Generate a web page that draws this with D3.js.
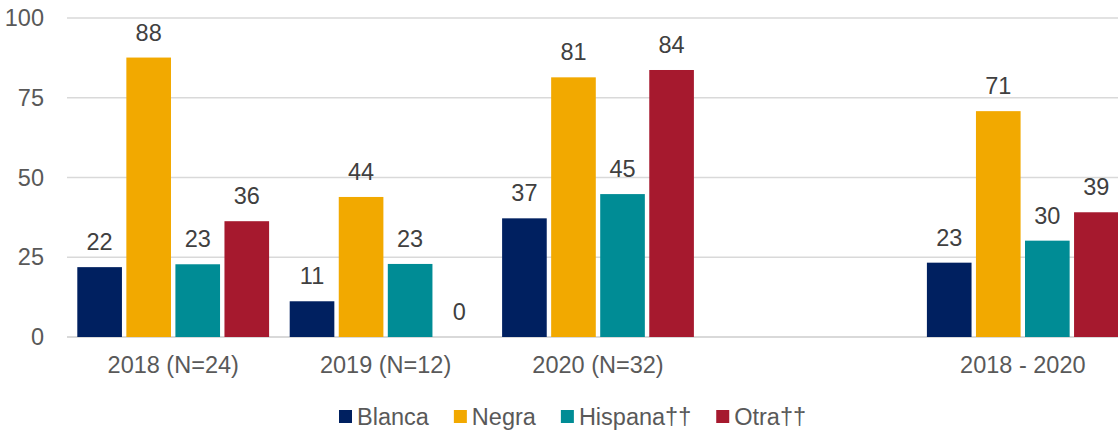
<!DOCTYPE html>
<html>
<head>
<meta charset="utf-8">
<script src="https://cdn.jsdelivr.net/npm/d3@7"></script>
<style>
  body { margin: 0; background: #fff; overflow: hidden; }
  svg { font-family: "Liberation Sans", Arial, sans-serif; }
</style>
</head>
<body>
<div id="chart"></div>
<script>
// categories (the empty one is the gap before the total group)
var categories = ['2018 (N=24)', '2019 (N=12)', '2020 (N=32)', '', '2018 - 2020'];
var seriesNames = ['Blanca', 'Negra', 'Hispana\u2020\u2020', 'Otra\u2020\u2020'];
var seriesColors = ['#002060', '#F2A900', '#008C95', '#A6192E'];

// values per series, one per category (null = no bar)
var blanca = [21.9, 11.2, 37.2, null, 23.3];
var negra = [87.6, 43.9, 81.4, null, 70.8];
var hispana = [22.8, 22.9, 44.8, null, 30.2];
var otra = [36.3, 0, 83.7, null, 39.1];

var yTicks = [0, 25, 50, 75, 100];

var width = 1118, height = 432;
var margin = { top: 18, left: 67 };
var innerW = width - margin.left;      // visible gridline length
var plotW = 1062;                      // category axis runs past the right edge
var innerH = 337 - margin.top;
var fontSize = '23.5px';

var seriesValues = [blanca, negra, hispana, otra];

var svg = d3.select('#chart').append('svg')
  .attr('width', width)
  .attr('height', height);

var g = svg.append('g')
  .attr('transform', 'translate(' + margin.left + ',' + margin.top + ')');

// scales
var x0 = d3.scaleBand()
  .domain(d3.range(categories.length))
  .range([0, plotW]);

var x1 = d3.scaleBand()
  .domain(d3.range(seriesNames.length))
  .range([0, x0.bandwidth()])
  .paddingInner(0.09)
  .paddingOuter(0.21);

var y = d3.scaleLinear().domain([0, 100]).range([innerH, 0]);

// gridlines
g.append('g')
  .selectAll('line')
  .data(yTicks)
  .join('line')
  .attr('x1', 0)
  .attr('x2', innerW)
  .attr('y1', function (d) { return y(d); })
  .attr('y2', function (d) { return y(d); })
  .attr('stroke', '#d9d9d9')
  .attr('stroke-width', function (d) { return d === 0 ? 2 : 1.5; });

// y axis labels
var yAxis = g.append('g')
  .call(d3.axisLeft(y).tickValues(yTicks).tickSize(0).tickPadding(23));
yAxis.select('.domain').remove();
yAxis.selectAll('text')
  .attr('fill', '#595959')
  .style('font-size', fontSize)
  .style('font-family', '"Liberation Sans", Arial, sans-serif');

// x axis labels
var xAxis = g.append('g')
  .attr('transform', 'translate(0,' + innerH + ')')
  .call(d3.axisBottom(x0).tickFormat(function (i) { return categories[i]; }).tickSize(0).tickPadding(19));
xAxis.select('.domain').remove();
xAxis.selectAll('text')
  .attr('fill', '#595959')
  .style('font-size', fontSize)
  .style('font-family', '"Liberation Sans", Arial, sans-serif');

// bars
var bars = [];
categories.forEach(function (c, ci) {
  seriesValues.forEach(function (vals, si) {
    if (vals[ci] !== null) bars.push({ ci: ci, si: si, v: vals[ci] });
  });
});

g.append('g')
  .selectAll('rect')
  .data(bars)
  .join('rect')
  .attr('x', function (d) { return x0(d.ci) + x1(d.si); })
  .attr('y', function (d) { return y(d.v); })
  .attr('width', x1.bandwidth())
  .attr('height', function (d) { return innerH - y(d.v); })
  .attr('fill', function (d) { return seriesColors[d.si]; });

// data labels
g.append('g')
  .selectAll('text')
  .data(bars)
  .join('text')
  .attr('x', function (d) { return x0(d.ci) + x1(d.si) + x1.bandwidth() / 2; })
  .attr('y', function (d) { return y(d.v) - 17; })
  .attr('text-anchor', 'middle')
  .attr('fill', '#404040')
  .style('font-size', fontSize)
  .text(function (d) { return d3.format('.0f')(d.v); });

// legend
var legend = svg.append('g').attr('transform', 'translate(339,0)');
var lx = 0;
seriesNames.forEach(function (name, i) {
  var item = legend.append('g').attr('transform', 'translate(' + lx + ',0)');
  item.append('rect')
    .attr('x', 0)
    .attr('y', 410)
    .attr('width', 13)
    .attr('height', 13)
    .attr('fill', seriesColors[i]);
  var t = item.append('text')
    .attr('x', 18)
    .attr('y', 425)
    .attr('fill', '#595959')
    .style('font-size', fontSize)
    .text(name);
  lx += 18 + t.node().getComputedTextLength() + 25;
});
</script>
</body>
</html>
